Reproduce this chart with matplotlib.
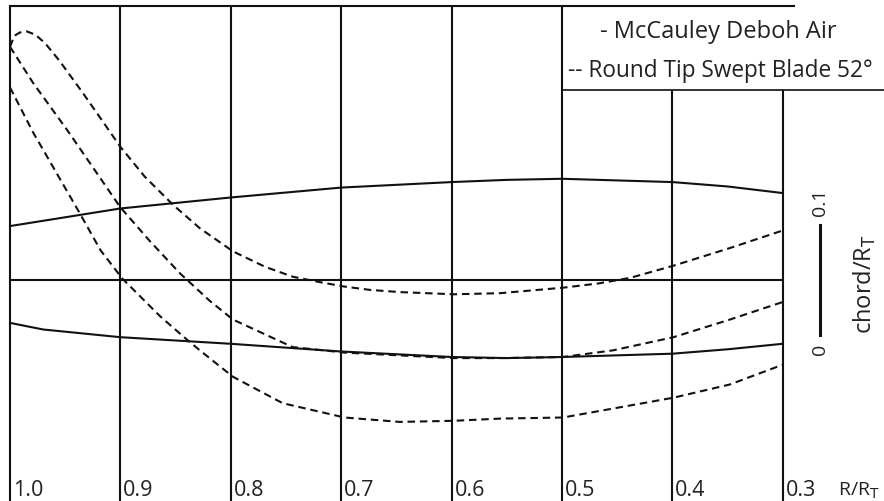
import matplotlib
matplotlib.use("Agg")
import matplotlib.pyplot as plt

# radial stations R/RT and their labels
r_grid = [1.0, 0.9, 0.8, 0.7, 0.6, 0.5, 0.4, 0.3]
grid_labels = ["1.0", "0.9", "0.8", "0.7", "0.6", "0.5", "0.4", "0.3"]

# McCauley Deboh Air planform (chord/RT above / below the reference line)
mccauley_r = [1.0, 0.95, 0.9, 0.8, 0.7, 0.6, 0.55, 0.5, 0.4, 0.35, 0.3]
mccauley_le = [0.049, 0.057, 0.065, 0.075, 0.084, 0.089, 0.091, 0.092, 0.089, 0.085, 0.079]
mccauley_te_r = [1.0, 0.985, 0.97, 0.9, 0.8, 0.7, 0.6, 0.55, 0.5, 0.4, 0.35, 0.3]
mccauley_te = [-0.039, -0.042, -0.045, -0.052, -0.058, -0.065, -0.070, -0.071, -0.070,
               -0.067, -0.063, -0.058]

# Round tip swept blade 52 deg: leading edge, mid line, trailing edge
swept_le_r = [1.0, 0.996, 0.991, 0.985, 0.977, 0.968, 0.955, 0.934, 0.918, 0.900,
              0.878, 0.852, 0.828, 0.798, 0.769, 0.744, 0.719, 0.697, 0.674, 0.647,
              0.598, 0.556, 0.499, 0.466, 0.438, 0.399, 0.348, 0.300]
swept_le = [0.212, 0.222, 0.225, 0.226, 0.223, 0.215, 0.199, 0.170, 0.147, 0.121,
            0.094, 0.068, 0.047, 0.026, 0.012, 0.003, -0.002, -0.006, -0.009, -0.011,
            -0.013, -0.012, -0.007, -0.003, 0.002, 0.013, 0.029, 0.045]

swept_mid_r = [1.0, 0.979, 0.948, 0.900, 0.873, 0.846, 0.819, 0.798, 0.744, 0.697,
               0.598, 0.556, 0.499, 0.454, 0.399, 0.348, 0.300]
swept_mid = [0.212, 0.179, 0.136, 0.066, 0.035, 0.006, -0.019, -0.036, -0.061, -0.066,
             -0.071, -0.071, -0.070, -0.064, -0.052, -0.036, -0.020]

swept_te_r = [1.0, 0.979, 0.937, 0.918, 0.898, 0.864, 0.840, 0.828, 0.798, 0.753,
              0.697, 0.647, 0.598, 0.556, 0.499, 0.399, 0.348, 0.300]
swept_te = [0.175, 0.134, 0.061, 0.027, 0.001, -0.033, -0.054, -0.064, -0.088, -0.112,
            -0.125, -0.129, -0.128, -0.126, -0.125, -0.107, -0.095, -0.077]

plt.rcParams["font.family"] = ["Open Sans", "DejaVu Sans"]

fig = plt.figure(figsize=(8.84, 5.01), dpi=100)
ax = fig.add_axes([0, 0, 1, 1])
ax.set_xlim(1.00906, 0.20833)
ax.set_ylim(-0.2009, 0.2545)
ax.axis("off")

ink = "#111111"
txt = "#222222"
lw = 1.5
top = 0.2491
legend_bottom = 0.1727

# frame and station lines
for r in r_grid:
    upper = legend_bottom if r < 0.45 else top
    ax.plot([r, r], [-0.21, upper], color=ink, lw=lw, solid_capstyle="butt")
ax.plot([1.0, 0.29], [top, top], color=ink, lw=lw)
ax.plot([0.5, 0.2], [legend_bottom, legend_bottom], color=ink, lw=1.2)
ax.plot([1.0, 0.3], [0, 0], color=ink, lw=lw)

# McCauley
ax.plot(mccauley_r, mccauley_le, color=ink, lw=lw)
ax.plot(mccauley_te_r, mccauley_te, color=ink, lw=lw)

# swept blade
dash = (0, (3.6, 2.3))
for rr, cc in [(swept_le_r, swept_le), (swept_mid_r, swept_mid), (swept_te_r, swept_te)]:
    ax.plot(rr, cc, color=ink, lw=lw, linestyle=dash)

# station labels
for r, lab in zip(r_grid, grid_labels):
    ax.annotate(lab, (r, -0.2009), xytext=(2, 0), textcoords="offset points",
                ha="left", va="bottom", fontsize=15.5, color=txt)
ax.annotate("R/R$_\\mathrm{T}$", (0.3, -0.2009), xytext=(40, 0), textcoords="offset points",
            ha="left", va="bottom", fontsize=14, color=txt)

# legend text
ax.text(0.679, 0.936, "- McCauley Deboh Air", transform=ax.transAxes,
        ha="left", va="center", fontsize=17, color=txt)
ax.text(0.6425, 0.858, "-- Round Tip Swept Blade 52°", transform=ax.transAxes,
        ha="left", va="center", fontsize=16.3, color=txt)

# chord scale bar
bar_r = 0.2663
ax.plot([bar_r, bar_r], [-0.05, 0.05], color=ink, lw=2.2)
ax.text(bar_r, -0.058, "0", rotation=90, ha="center", va="top", fontsize=14, color=txt)
ax.text(bar_r, 0.058, "0.1", rotation=90, ha="center", va="bottom", fontsize=14, color=txt)
ax.text(0.2255, -0.004, "chord/R$_\\mathrm{T}$", rotation=90, ha="center", va="center",
        fontsize=17, color=txt)

fig.savefig("out.png", dpi=100)
